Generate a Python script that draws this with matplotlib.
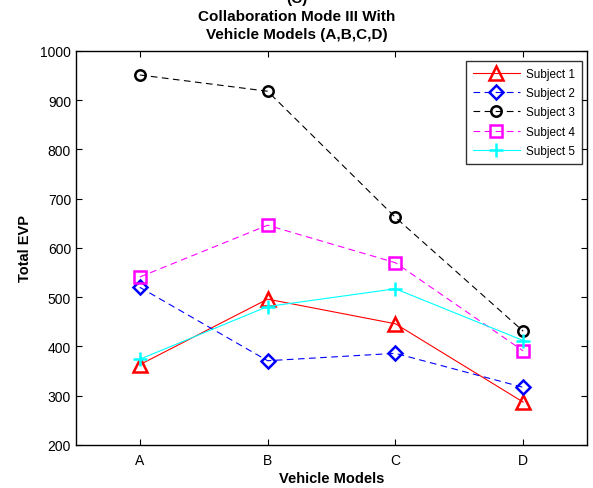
import matplotlib
matplotlib.use("Agg")
import matplotlib.pyplot as plt

plt.rcParams['font.family'] = ['Liberation Sans', 'DejaVu Sans']

categories = ['A', 'B', 'C', 'D']
subject1 = [363, 496, 446, 287]
subject2 = [520, 371, 386, 317]
subject3 = [951, 918, 662, 431]
subject4 = [541, 646, 570, 391]
subject5 = [374, 481, 517, 412]
yticks = [200, 300, 400, 500, 600, 700, 800, 900, 1000]

fig = plt.figure(figsize=(5.93, 4.89), dpi=100)
ax = fig.add_axes([0.128, 0.088, 0.862, 0.806])

x = list(range(1, len(categories) + 1))
dash = (0, (6, 4))
ax.plot(x, subject1, color='red', ls='-', lw=0.8, marker='^', ms=10, mfc='none', mew=1.8, label='Subject 1')
ax.plot(x, subject2, color='blue', ls=dash, lw=0.8, marker='D', ms=7, mfc='none', mew=1.8, label='Subject 2')
ax.plot(x, subject3, color='black', ls=dash, lw=0.8, marker='o', ms=7.5, mfc='none', mew=1.8, label='Subject 3')
ax.plot(x, subject4, color='magenta', ls=dash, lw=0.8, marker='s', ms=8, mfc='none', mew=1.8, label='Subject 4')
ax.plot(x, subject5, color='cyan', ls='-', lw=0.8, marker='+', ms=10, mew=1.8, label='Subject 5')

ax.set_xlim(0.5, 4.5)
ax.set_ylim(200, 1000)
ax.set_xticks(x)
ax.set_xticklabels(categories)
ax.set_yticks(yticks)
ax.tick_params(direction='in', top=True, right=True, labelsize=10, length=4, width=0.8)
ax.tick_params(axis='x', pad=6)
for s in ax.spines.values():
    s.set_linewidth(1.0)

ax.set_xlabel('Vehicle Models', fontsize=10.5, fontweight='bold', labelpad=3)
ax.set_ylabel('Total EVP', fontsize=10.5, fontweight='bold', labelpad=6)

fig.text(0.5, 1 - 3 / 489, '(C)', ha='center', va='baseline', fontsize=11, fontweight='bold')
fig.text(0.5, 1 - 20.7 / 489, 'Collaboration Mode III With', ha='center', va='baseline',
         fontsize=11, fontweight='bold')
fig.text(0.5, 1 - 39 / 489, 'Vehicle Models (A,B,C,D)', ha='center', va='baseline',
         fontsize=11, fontweight='bold')

leg = ax.legend(loc='upper right', fontsize=8.5, frameon=True, fancybox=False,
                edgecolor='black', borderpad=0.6, handlelength=4.0, labelspacing=0.62,
                handletextpad=0.5, borderaxespad=0,
                bbox_to_anchor=(0.990, 0.975))
leg.get_frame().set_linewidth(1.0)

fig.savefig('out.png', dpi=100)
